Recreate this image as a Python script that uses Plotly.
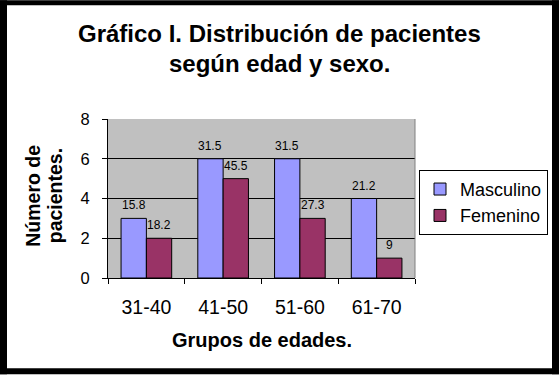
import plotly.graph_objects as go

categories = ["31-40", "41-50", "51-60", "61-70"]
masculino = [3, 6, 6, 4]
femenino = [2, 5, 3, 1]
masc_labels = ["15.8", "31.5", "31.5", "21.2"]
fem_labels = ["18.2", "45.5", "27.3", "9"]
title_lines = ["Gráfico I. Distribución de pacientes", "según edad y sexo."]
y_title_lines = ["Número de", "pacientes."]
x_title = "Grupos de edades."

W, H = 559, 375
L, R, T, B = 108, 415, 119, 278.5
pw, ph = R - L, B - T


def px(x):
    return (x - L) / pw


def py(y):
    return (B - y) / ph


FONT = "Arial, Liberation Sans, sans-serif"

fig = go.Figure()
fig.add_trace(go.Bar(x=categories, y=masculino, name="Masculino",
                     marker=dict(color="#9999FF", line=dict(color="black", width=1))))
fig.add_trace(go.Bar(x=categories, y=femenino, name="Femenino",
                     marker=dict(color="#993366", line=dict(color="black", width=1))))

annotations = []
for cat, v, lab in zip(categories, masculino, masc_labels):
    annotations.append(dict(x=cat, y=v, xref="x", yref="y", text=lab, showarrow=False,
                            xshift=-12.7, yshift=4, yanchor="bottom",
                            font=dict(family=FONT, size=12, color="black")))
for cat, v, lab in zip(categories, femenino, fem_labels):
    annotations.append(dict(x=cat, y=v, xref="x", yref="y", text=lab, showarrow=False,
                            xshift=12.7, yshift=4, yanchor="bottom",
                            font=dict(family=FONT, size=12, color="black")))

# title lines
for txt, cy in zip(title_lines, [33.7, 63.7]):
    annotations.append(dict(x=px(W / 2), y=py(cy), xref="paper", yref="paper",
                            text="<b>" + txt + "</b>", showarrow=False,
                            xanchor="center", yanchor="middle",
                            font=dict(family=FONT, size=24, color="black")))

annotations.append(dict(x=0.5, y=py(340.5), xref="paper", yref="paper",
                        text="<b>" + x_title + "</b>", showarrow=False,
                        xanchor="center", yanchor="middle",
                        font=dict(family=FONT, size=20, color="black")))
for txt, cx in zip(y_title_lines, [33, 54.5]):
    annotations.append(dict(x=px(cx), y=py(196), xref="paper", yref="paper",
                            text="<b>" + txt + "</b>", showarrow=False,
                            textangle=-90, xanchor="center", yanchor="middle",
                            font=dict(family=FONT, size=19.5, color="black")))

shapes = [
    # plot area right border
    dict(type="line", xref="paper", yref="paper", x0=1, x1=1, y0=0, y1=1,
         line=dict(color="#808080", width=1)),
    # outer black frame
    dict(type="rect", xref="paper", yref="paper", x0=px(0), x1=px(7), y0=py(0), y1=py(H),
         fillcolor="black", line=dict(width=0)),
    dict(type="rect", xref="paper", yref="paper", x0=px(552), x1=px(W), y0=py(0), y1=py(H),
         fillcolor="black", line=dict(width=0)),
    dict(type="rect", xref="paper", yref="paper", x0=px(0), x1=px(W), y0=py(0), y1=py(5),
         fillcolor="black", line=dict(width=0)),
    dict(type="rect", xref="paper", yref="paper", x0=px(0), x1=px(W), y0=py(369), y1=py(H),
         fillcolor="black", line=dict(width=0)),
]

fig.update_layout(
    width=W, height=H,
    margin=dict(l=L, r=W - R, t=T, b=H - B, pad=0, autoexpand=False),
    paper_bgcolor="white",
    plot_bgcolor="#C0C0C0",
    barmode="group", bargap=0.34, bargroupgap=0,
    font=dict(family=FONT, color="black"),
    legend=dict(x=px(419), y=py(170), xanchor="left", yanchor="top",
                bgcolor="white", bordercolor="black", borderwidth=1,
                font=dict(family=FONT, size=18, color="black")),
    annotations=annotations,
    shapes=shapes,
    showlegend=True,
)

fig.update_xaxes(showline=True, linecolor="black", linewidth=1,
                 ticks="outside", ticklen=5, tickcolor="black", tickson="boundaries",
                 ticklabelstandoff=12, showgrid=False,
                 tickfont=dict(family=FONT, size=19.5, color="black"))
fig.update_yaxes(range=[0, 8], dtick=2, showline=True, linecolor="black", linewidth=1,
                 ticks="outside", ticklen=5, tickcolor="black",
                 showgrid=True, gridcolor="black", gridwidth=1, zeroline=False,
                 ticklabelstandoff=9,
                 tickfont=dict(family=FONT, size=16.5, color="black"))

fig.write_html("out.html", config={"displayModeBar": False},
               post_script="document.body.style.margin='0';document.body.style.overflow='hidden';")
